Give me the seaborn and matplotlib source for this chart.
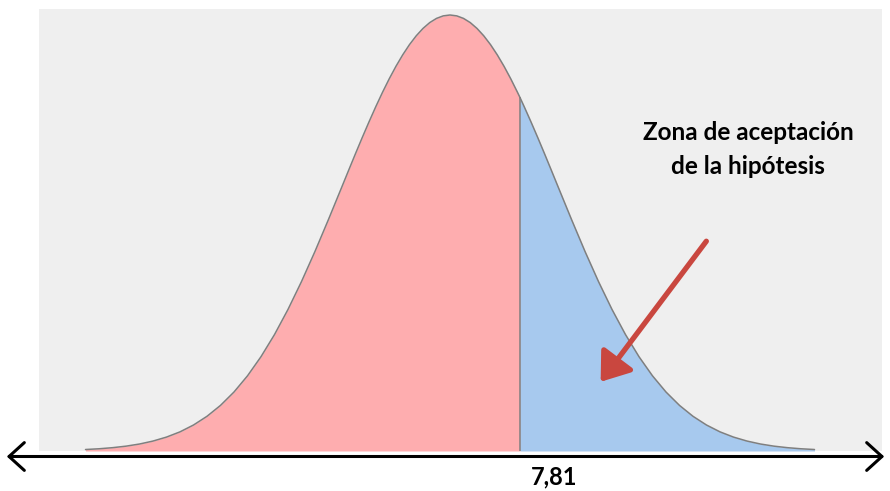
import matplotlib
matplotlib.use("Agg")
import matplotlib.pyplot as plt
import seaborn as sns
import pandas as pd

# Curve: position (in curve-width units from the peak)
# and height relative to the peak.
x_pos = [-3.375, -3.25, -3.125, -3.0, -2.875, -2.75, -2.625, -2.5, -2.375, -2.25,
         -2.125, -2.0, -1.875, -1.75, -1.625, -1.5, -1.375, -1.25, -1.125, -1.0,
         -0.9375, -0.875, -0.8125, -0.75, -0.6875, -0.625, -0.5625, -0.5, -0.4375,
         -0.375, -0.3125, -0.25, -0.1875, -0.125, -0.0625, 0.0, 0.0625, 0.125, 0.1875,
         0.25, 0.3125, 0.375, 0.4375, 0.5, 0.5625, 0.625, 0.648, 0.6875, 0.75, 0.8125,
         0.875, 0.9375, 1.0, 1.125, 1.25, 1.375, 1.5,
         1.625, 1.75, 1.875, 2.0, 2.125, 2.25, 2.375, 2.5, 2.625, 2.75, 2.875,
         3.0, 3.125, 3.25, 3.375]
height = [0.0034, 0.0051, 0.0076, 0.0111, 0.0160, 0.0228, 0.0319, 0.0439, 0.0596, 0.0796,
          0.1046, 0.1353, 0.1724, 0.2163, 0.2670, 0.3247, 0.3886, 0.4578, 0.5311, 0.6065,
          0.6444, 0.6820, 0.7189, 0.7548, 0.7895, 0.8226, 0.8537, 0.8825, 0.9087,
          0.9321, 0.9523, 0.9692, 0.9826, 0.9922, 0.9980, 1.0, 0.9980, 0.9922, 0.9826,
          0.9692, 0.9523, 0.9321, 0.9087, 0.8825, 0.8537, 0.8226, 0.8108, 0.7895, 0.7548, 0.7189,
          0.6820, 0.6444, 0.6065, 0.5311, 0.4578, 0.3886, 0.3247,
          0.2670, 0.2163, 0.1724, 0.1353, 0.1046, 0.0796, 0.0596, 0.0439, 0.0319, 0.0228, 0.0160,
          0.0111, 0.0076, 0.0051, 0.0034]
split_pos = 0.648
split_label = "7,81"
annotation_lines = ["Zona de aceptación", "de la hipótesis"]

df = pd.DataFrame({"x": x_pos, "y": height})

sns.set_theme(style="white")
plt.rcParams["font.family"] = ["Lato", "DejaVu Sans"]

W, H = 890, 491
fig = plt.figure(figsize=(W / 100, H / 100), dpi=100)
fig.patch.set_facecolor("white")


def fx(px):
    return px / W


def fy(py):
    return 1 - py / H


ax = fig.add_axes([fx(39), fy(451), fx(882) - fx(39), fy(9) - fy(451)])
ax.set_facecolor("#EFEFEF")

left = df[df["x"] <= split_pos]
right = df[df["x"] >= split_pos]
ax.fill_between(left["x"], 0, left["y"], color="#FEADAF", lw=0, zorder=1)
ax.fill_between(right["x"], 0, right["y"], color="#A7C9EE", lw=0, zorder=1)
sns.lineplot(data=df, x="x", y="y", ax=ax, color="#7F7F7F", lw=1.1, sort=False, zorder=3)
split_h = df.loc[df["x"] == split_pos, "y"].iloc[0]
ax.vlines(split_pos, 0, split_h, color="#7F7F7F", lw=1.1, zorder=3)

ax.set_xlim((39 - 450) / 108, (882 - 450) / 108)
ax.set_ylim(0, 442 / 436)
ax.set_xticks([])
ax.set_yticks([])
ax.set_xlabel("")
ax.set_ylabel("")
for s in ax.spines.values():
    s.set_visible(False)

# bottom double-headed axis arrow
fig.add_artist(matplotlib.patches.FancyArrowPatch(
    (fx(4), fy(456.5)), (fx(887), fy(456.5)), transform=fig.transFigure,
    arrowstyle=matplotlib.patches.ArrowStyle("<->", head_length=1.1, head_width=1.0),
    mutation_scale=10, color="black", lw=2.2))

fig.text(fx(554), fy(477), split_label, ha="center", va="center",
         fontsize=17, fontweight="bold", color="black")

fig.text(fx(748), fy(132), annotation_lines[0], ha="center", va="center",
         fontsize=17.5, fontweight="bold", color="black")
fig.text(fx(748), fy(167), annotation_lines[1], ha="center", va="center",
         fontsize=17.5, fontweight="bold", color="black")

# red pointer arrow
fig.add_artist(matplotlib.patches.FancyArrowPatch(
    (fx(708), fy(239)), (fx(599), fy(384)), transform=fig.transFigure,
    arrowstyle=matplotlib.patches.ArrowStyle("-|>", head_length=1.1, head_width=0.8),
    mutation_scale=15, color="#C9473F", lw=3.8))

fig.savefig("out.png", dpi=100, facecolor="white")
